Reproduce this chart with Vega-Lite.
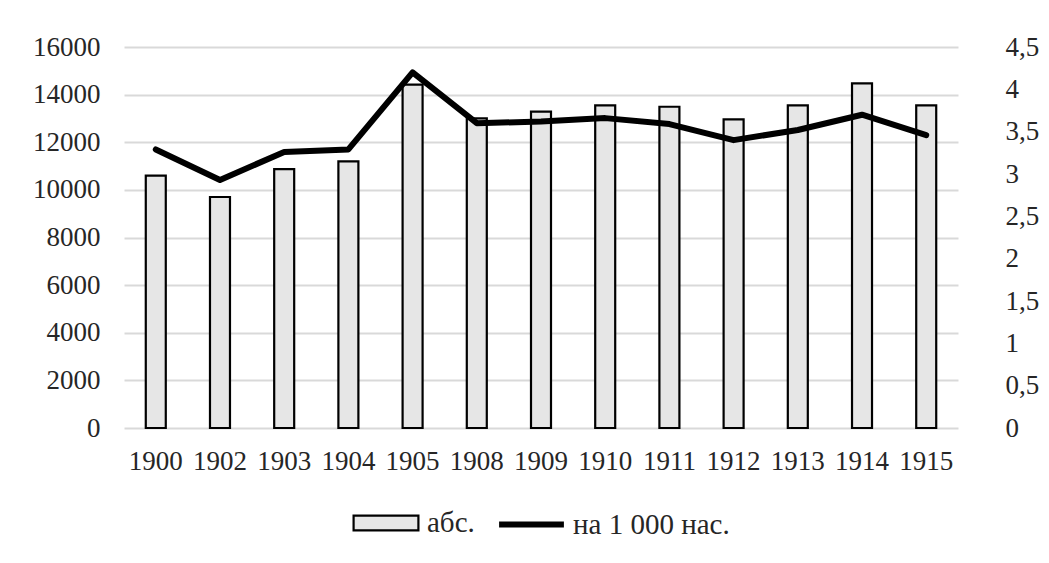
{
  "$schema": "https://vega.github.io/schema/vega-lite/v6.json",
  "autosize": {"type": "none"},
  "width": 834,
  "height": 381,
  "padding": {"left": 124, "top": 47, "right": 91, "bottom": 135},
  "background": "white",
  "data": {
    "values": [
      {"year": "1900", "abs": 10600, "rate": 3.29},
      {"year": "1902", "abs": 9700, "rate": 2.93},
      {"year": "1903", "abs": 10870, "rate": 3.26},
      {"year": "1904", "abs": 11200, "rate": 3.29},
      {"year": "1905", "abs": 14420, "rate": 4.2},
      {"year": "1908", "abs": 13000, "rate": 3.6},
      {"year": "1909", "abs": 13290, "rate": 3.62},
      {"year": "1910", "abs": 13550, "rate": 3.66},
      {"year": "1911", "abs": 13490, "rate": 3.59},
      {"year": "1912", "abs": 12960, "rate": 3.4},
      {"year": "1913", "abs": 13550, "rate": 3.52},
      {"year": "1914", "abs": 14470, "rate": 3.7},
      {"year": "1915", "abs": 13550, "rate": 3.46}
    ]
  },
  "encoding": {
    "x": {
      "field": "year",
      "type": "nominal",
      "sort": null,
      "scale": {"paddingInner": 0.67, "paddingOuter": 0.33},
      "axis": {
        "title": null,
        "labelAngle": 0,
        "domain": false,
        "ticks": false,
        "labelPadding": 20,
        "grid": false,
        "labelFont": "Liberation Serif",
        "labelFontSize": 27
      }
    }
  },
  "layer": [
    {
      "mark": {"type": "bar", "stroke": "black", "strokeWidth": 2.2, "width": 20},
      "encoding": {
        "y": {
          "field": "abs",
          "type": "quantitative",
          "scale": {"domain": [0, 16000], "nice": false},
          "axis": {
            "title": null,
            "values": [0, 2000, 4000, 6000, 8000, 10000, 12000, 14000, 16000],
            "labelExpr": "format(datum.value, 'd')",
            "domain": false,
            "ticks": false,
            "labelPadding": 24,
            "grid": true,
            "gridColor": "#d9d9d9",
            "gridWidth": 2,
            "labelFont": "Liberation Serif",
            "labelFontSize": 27
          }
        },
        "fill": {
          "datum": "абс.",
          "type": "nominal",
          "scale": {"domain": ["абс."], "range": ["#e6e6e6"]},
          "legend": {
            "title": null,
            "orient": "none",
            "legendX": 228,
            "legendY": 442,
            "symbolSize": 4200,
            "symbolType": "M-1,-0.23H1V0.23H-1Z",
            "symbolStrokeColor": "#000000",
            "symbolStrokeWidth": 2.2,
            "labelOffset": 7,
            "labelFont": "Liberation Serif",
            "labelFontSize": 29
          }
        }
      }
    },
    {
      "mark": {"type": "line", "strokeWidth": 6, "strokeJoin": "round", "strokeCap": "round"},
      "encoding": {
        "y": {
          "field": "rate",
          "type": "quantitative",
          "scale": {"domain": [0, 4.5], "nice": false},
          "axis": {
            "title": null,
            "orient": "right",
            "values": [0, 0.5, 1, 1.5, 2, 2.5, 3, 3.5, 4, 4.5],
            "labelExpr": "replace(toString(datum.value), '.', ',')",
            "domain": false,
            "ticks": false,
            "labelPadding": 47,
            "grid": false,
            "labelFont": "Liberation Serif",
            "labelFontSize": 27
          }
        },
        "stroke": {
          "datum": "на 1 000 нас.",
          "type": "nominal",
          "scale": {"domain": ["на 1 000 нас."], "range": ["#000000"]},
          "legend": {
            "title": null,
            "orient": "none",
            "legendX": 372,
            "legendY": 442,
            "symbolSize": 4200,
            "symbolType": "M-1,0H1",
            "symbolStrokeWidth": 6,
            "labelOffset": 6,
            "labelFont": "Liberation Serif",
            "labelFontSize": 29
          }
        }
      }
    }
  ],
  "resolve": {"scale": {"y": "independent"}},
  "config": {
    "font": "Liberation Serif",
    "view": {"stroke": null},
    "axis": {"labelColor": "#262626"},
    "legend": {"labelColor": "#262626"}
  }
}
